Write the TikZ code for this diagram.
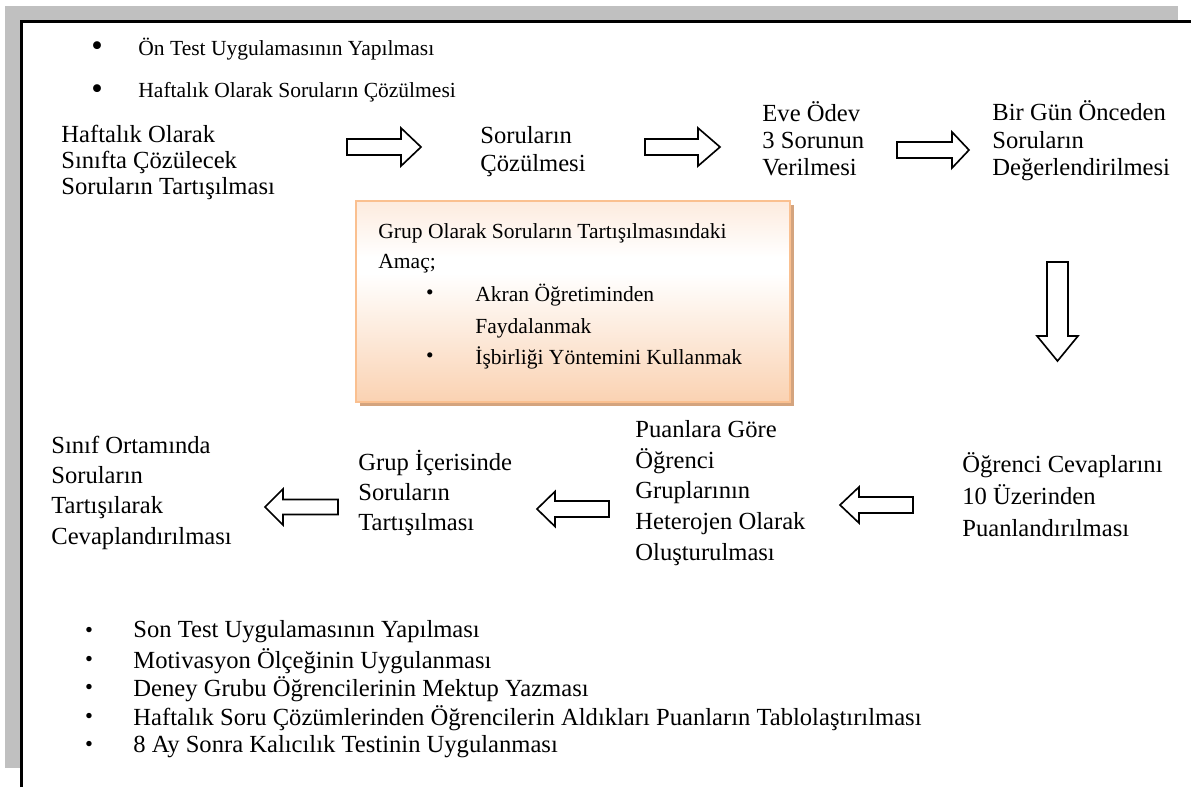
\documentclass[tikz,border=0pt]{standalone}
\usepackage{fontspec}
\setmainfont{Liberation Serif}
\usetikzlibrary{shadows}
\definecolor{framegray}{HTML}{C0C0C0}
\definecolor{boxborder}{HTML}{FAC090}
\definecolor{boxshadow}{HTML}{D4A47E}
\definecolor{peachbot}{HTML}{FAD2B2}
\definecolor{peachtop}{HTML}{FDEBDE}
\pgfdeclareverticalshading{boxshade}{100bp}{color(0bp)=(peachbot); color(25bp)=(peachbot); color(57bp)=(white); color(61bp)=(white); color(75bp)=(peachtop); color(100bp)=(peachtop)}
\tikzset{
  flowtext/.style={anchor=west, inner sep=0pt, align=left, text=black},
  blockarrow/.style={draw=black, line width=0.8pt, fill=white, line join=miter},
  bulletmark/.style={inner sep=0pt, anchor=center},
  goalbox/.style={draw=boxborder, line width=1pt, shading=boxshade,
    minimum width=211.7pt, minimum height=98.05pt, inner sep=0pt,
    drop shadow={fill=boxshadow, opacity=1, shadow xshift=1.95pt, shadow yshift=-1.95pt}},
}
\newcommand{\mainfs}[1]{\fontsize{12}{#1}\selectfont\lineskiplimit=-20pt}
\newcommand{\smallfs}[1]{\fontsize{10.5}{#1}\selectfont\lineskiplimit=-20pt}
\begin{document}
\begin{tikzpicture}[x=0.4878pt, y=-0.4878pt]
\useasboundingbox (0,0) rectangle (1191,787);
\fill[white] (0,0) rectangle (1191,787);
% page frame
\fill[framegray] (5,6) rectangle (1178,21);
\fill[framegray] (5,6) rectangle (20,768);
\draw[line width=1pt] (21.5,787) -- (21.5,21.5) -- (1191,21.5);

% top list
\node[bulletmark, font=\fontsize{16}{16}\selectfont] (tb1) at (97,49) {•};
\node[bulletmark, font=\fontsize{16}{16}\selectfont] (tb2) at (97,92) {•};
\node[flowtext, font=\smallfs{12}] (t1) at (138,49) {Ön Test Uygulamasının Yapılması};
\node[flowtext, font=\smallfs{12}] (t2) at (138,92) {Haftalık Olarak Soruların Çözülmesi};

% top row
\node[flowtext, font=\mainfs{12.68}] (n1) at (61,162) {Haftalık Olarak\\Sınıfta Çözülecek\\Soruların Tartışılması};
\node[flowtext, font=\mainfs{13.66}] (n2) at (480,152) {Soruların\\Çözülmesi};
\node[flowtext, font=\mainfs{13.17}] (n3) at (762,139) {Eve Ödev\\3 Sorunun\\Verilmesi};
\node[flowtext, font=\mainfs{13.41}] (n4) at (992,141) {Bir Gün Önceden\\Soruların\\Değerlendirilmesi};

% bottom row
\node[flowtext, font=\mainfs{15.61}] (n5) at (962,495) {Öğrenci Cevaplarını\\10 Üzerinden\\Puanlandırılması};
\node[flowtext, font=\mainfs{15.0}] (n6) at (635,493) {Puanlara Göre\\Öğrenci\\Gruplarının\\Heterojen Olarak\\Oluşturulması};
\node[flowtext, font=\mainfs{14.63}] (n7) at (358,493) {Grup İçerisinde\\Soruların\\Tartışılması};
\node[flowtext, font=\mainfs{14.78}] (n8) at (51,492.5) {Sınıf Ortamında\\Soruların\\Tartışılarak\\Cevaplandırılması};

% block arrows (top row, pointing right)
\coordinate (r1) at (347,147);
\draw[blockarrow] (r1) ++(0,-8) -- ++(54,0) -- ++(0,-11) -- ++(20,19) -- ++(-20,19) -- ++(0,-11) -- ++(-54,0) -- cycle;
\coordinate (r2) at (645,147);
\draw[blockarrow] (r2) ++(0,-8) -- ++(53,0) -- ++(0,-11) -- ++(22,19) -- ++(-22,19) -- ++(0,-11) -- ++(-53,0) -- cycle;
\coordinate (r3) at (897,150);
\draw[blockarrow] (r3) ++(0,-8) -- ++(55,0) -- ++(0,-10) -- ++(17,18) -- ++(-17,18) -- ++(0,-10) -- ++(-55,0) -- cycle;
% down arrow
\coordinate (d1) at (1057.5,262);
\draw[blockarrow] (d1) ++(-10.5,0) -- ++(0,74) -- ++(-10,0) -- ++(20.5,25) -- ++(20.5,-25) -- ++(-10,0) -- ++(0,-74) -- cycle;
% bottom row, pointing left
\coordinate (l3) at (913,505);
\draw[blockarrow] (l3) ++(0,-8) -- ++(-54,0) -- ++(0,-10) -- ++(-19,18) -- ++(19,18) -- ++(0,-10) -- ++(54,0) -- cycle;
\coordinate (l2) at (609,509);
\draw[blockarrow] (l2) ++(0,-8) -- ++(-54,0) -- ++(0,-9.5) -- ++(-18,17.5) -- ++(18,17.5) -- ++(0,-9.5) -- ++(54,0) -- cycle;
\coordinate (l1) at (338,507);
\draw[blockarrow] (l1) ++(0,-7.5) -- ++(-55,0) -- ++(0,-10.5) -- ++(-18,18) -- ++(18,18) -- ++(0,-10.5) -- ++(55,0) -- cycle;

% goal box
\node[goalbox] (goal) at (573,301.5) {};
\node[flowtext, font=\smallfs{14.63}] (g1) at (378,248) {Grup Olarak Soruların Tartışılmasındaki\\Amaç;};
\node[bulletmark, font=\fontsize{10.5}{10.5}\selectfont] (gb1) at (430,295) {•};
\node[bulletmark, font=\fontsize{10.5}{10.5}\selectfont] (gb2) at (430,358) {•};
\node[flowtext, font=\smallfs{15.61}] (g2) at (475,311) {Akran Öğretiminden\\Faydalanmak};
\node[flowtext, font=\smallfs{15}] (g3) at (475,358) {İşbirliği Yöntemini Kullanmak};

% bottom list
\foreach \yy/\txt [count=\i] in {632/Son Test Uygulamasının Yapılması,
  661/Motivasyon Ölçeğinin Uygulanması,
  689.5/Deney Grubu Öğrencilerinin Mektup Yazması,
  718/Haftalık Soru Çözümlerinden Öğrencilerin Aldıkları Puanların Tablolaştırılması,
  746.5/8 Ay Sonra Kalıcılık Testinin Uygulanması}{
  \node[bulletmark, font=\fontsize{11}{11}\selectfont] (bb\i) at (89,\yy) {•};
  \node[flowtext, font=\mainfs{14}] (b\i) at (133,\yy) {\txt};
}
\end{tikzpicture}
\end{document}
